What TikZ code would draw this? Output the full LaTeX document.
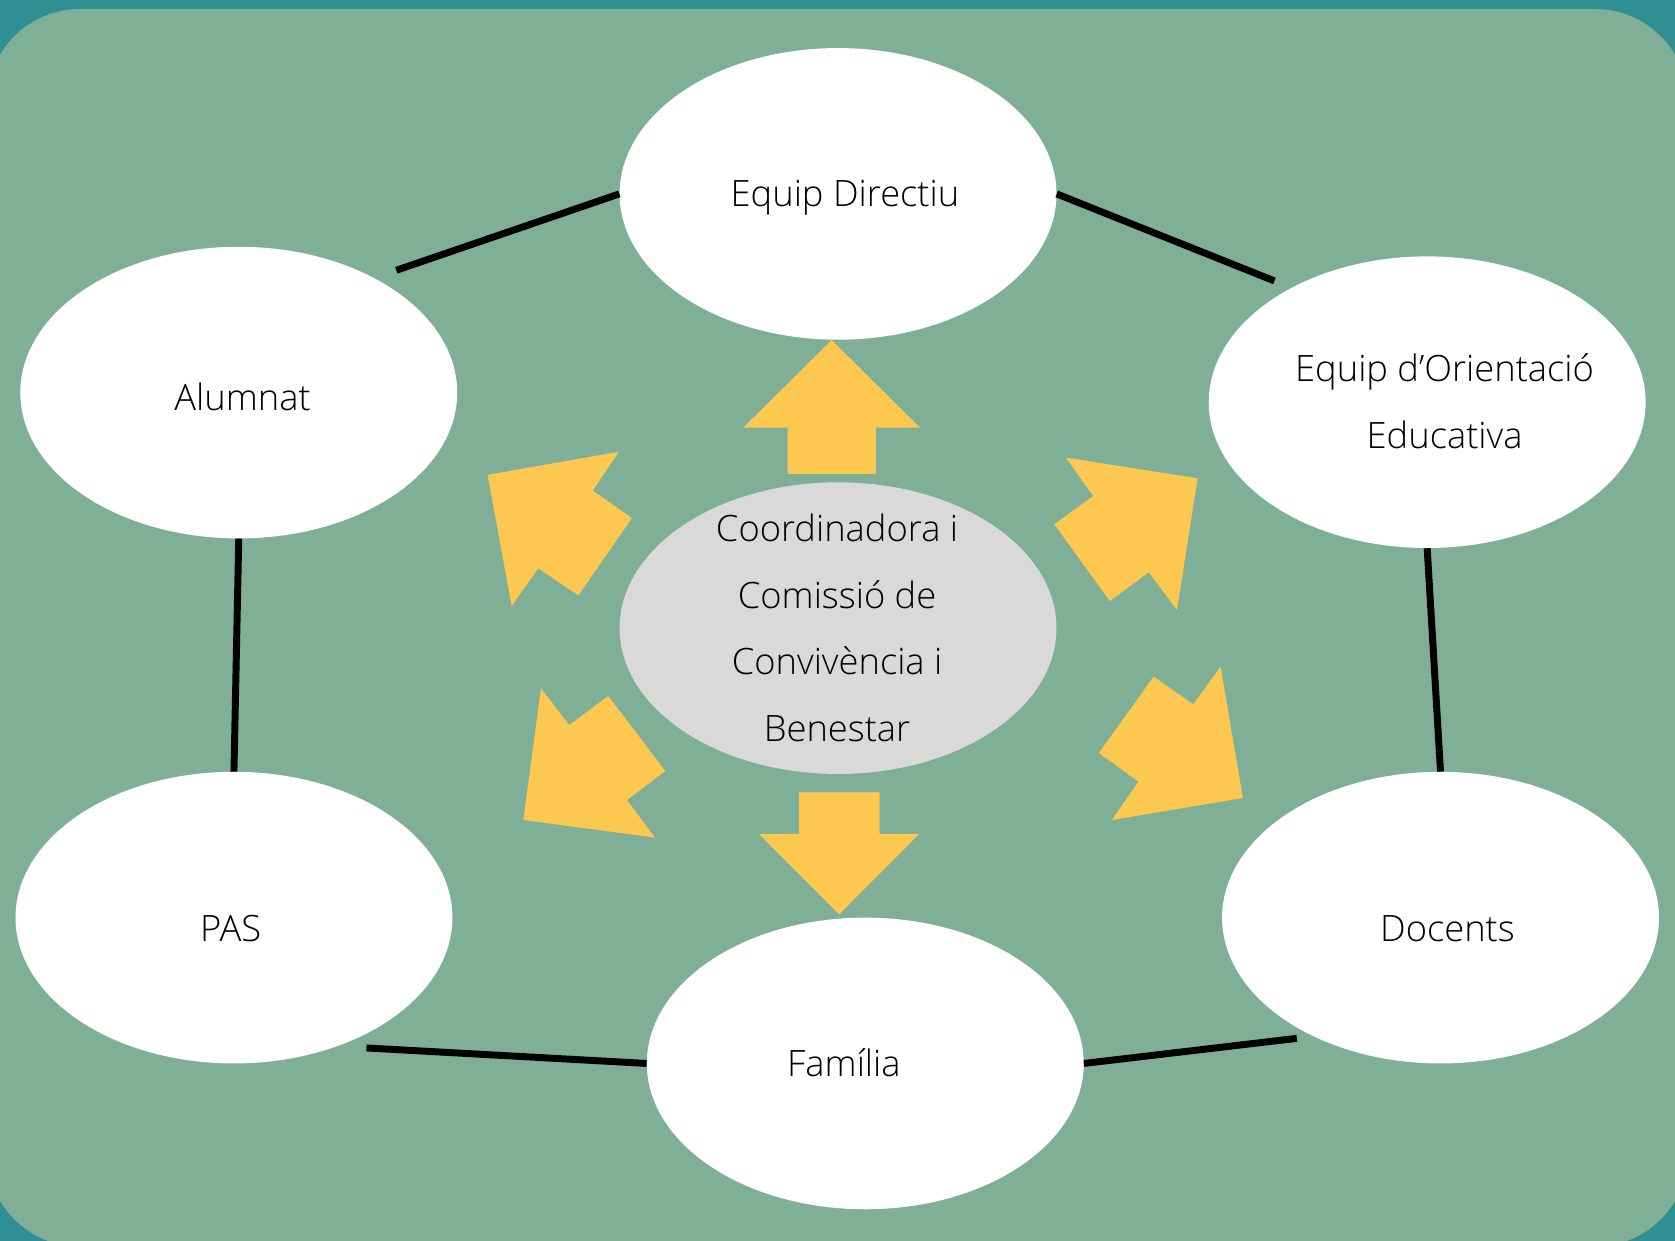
\documentclass[tikz,border=0pt]{standalone}
\usepackage{fontspec}
\setmainfont{Open Sans Light}
\usetikzlibrary{shapes.geometric}
\definecolor{outerteal}{HTML}{2F8F92}
\definecolor{innergreen}{HTML}{7FAF97}
\definecolor{arrowyellow}{HTML}{FDC84F}
\definecolor{centergray}{HTML}{D9D9D9}
\tikzset{
  bubble/.style={ellipse, fill=white, draw=none, minimum width=409pt, minimum height=273pt, inner sep=0pt},
  centerbubble/.style={bubble, fill=centergray},
  label text/.style={font=\fontsize{34}{62.4}\selectfont, text=black, anchor=base, inner sep=0pt, align=center},
  link/.style={line width=6.5pt, draw=black, line cap=butt},
  bigarrow/.style={fill=arrowyellow, draw=none}
}
\begin{document}
\begin{tikzpicture}[x=1pt, y=-1pt]
\useasboundingbox (0,0) rectangle (1568,1161.7);
\begin{scope}
\clip (0,0) rectangle (1568,1161.7);
\fill[outerteal] (-20,-20) rectangle (1600,1200);
\fill[innergreen, rounded corners=87pt] (-12,8.4) rectangle (1580,1167);
\end{scope}

% bubbles
\node[bubble] (ED) at (784.5,181.5) {};
\node[bubble] (AL) at (223.5,367.5) {};
\node[bubble] (EO) at (1336,376.5) {};
\node[centerbubble] (CC) at (784.5,588) {};
\node[bubble] (PA) at (219,859) {};
\node[bubble] (DO) at (1348.5,859) {};
\node[bubble] (FA) at (810,995.5) {};

% texts
\node[label text] (tED) at (791,193.5) {Equip Directiu};
\node[label text] (tAL) at (227,384) {Alumnat};
\node[label text] (tEO1) at (1352.3,357.3) {Equip d’Orientació};
\node[label text] (tEO2) at (1352.3,419.7) {Educativa};
\node[label text] (tC1) at (783.6,507) {Coordinadora i};
\node[label text] (tC2) at (783.6,569.4) {Comissió de};
\node[label text] (tC3) at (783.6,631.8) {Convivència i};
\node[label text] (tC4) at (783.6,694.2) {Benestar};
\node[label text] (tPA) at (216,881) {PAS};
\node[label text] (tDO) at (1355,881) {Docents};
\node[label text] (tFA) at (790,1008) {Família};

% free line ends
\coordinate (alTop) at (371,253);
\coordinate (eoTop) at (1193,263);
\coordinate (doBot) at (1214,972);
\coordinate (paBot) at (343,981);

% connectors
\draw[link] (alTop) -- (ED.west);
\draw[link] (ED.east) -- (eoTop);
\draw[link] (EO.south) -- (DO.north);
\draw[link] (FA.east) -- (doBot);
\draw[link] (paBot) -- (FA.west);
\draw[link] (AL.south) -- (PA.north);

% arrows
% up
\fill[bigarrow] (778.5,318.3) -- (861.2,400.3) -- (820,400.3) -- (820,443.7) -- (737.3,443.7) -- (737.3,400.3) -- (695.8,400.3) -- cycle;
% down
\fill[bigarrow] (785.6,855.9) -- (860.5,780.7) -- (823.4,780.7) -- (823.4,741.7) -- (747.9,741.7) -- (747.9,780.7) -- (710.5,780.7) -- cycle;
% upper left
\fill[bigarrow] (456.5,444.6) -- (579.4,422.8) -- (554.8,459.3) -- (591.6,484.9) -- (541.4,557.3) -- (503.9,532) -- (479,567.3) -- cycle;
% lower left
\fill[bigarrow] (489.9,767.6) -- (506.4,644.3) -- (532.9,678.7) -- (569.4,651.5) -- (622.8,721.7) -- (586.9,748.9) -- (613.1,784.1) -- cycle;
% upper right
\fill[bigarrow] (1121.1,447.7) -- (997.8,428.4) -- (1023.4,464.3) -- (986.9,490.8) -- (1039,562.6) -- (1075.5,535.7) -- (1101.8,571) -- cycle;
% lower right
\fill[bigarrow] (1163.5,747) -- (1142.6,624) -- (1117,659.3) -- (1079.9,633.4) -- (1028.7,704.9) -- (1065.6,731.7) -- (1040.9,767.6) -- cycle;
\end{tikzpicture}
\end{document}
